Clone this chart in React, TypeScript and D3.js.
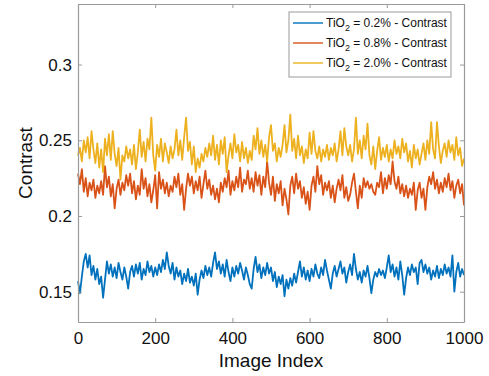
import React, { useEffect, useRef } from "react";
import * as d3 from "d3";

// image index every 5 frames
const imageIndex: number[] = d3.range(0, 1001, 5);

const tio2_02: number[] = [
  0.157, 0.149, 0.160, 0.170, 0.175, 0.166, 0.174, 0.161, 0.167, 0.158,
  0.165, 0.155, 0.160, 0.146, 0.158, 0.170, 0.162, 0.168, 0.160, 0.166,
  0.159, 0.169, 0.163, 0.158, 0.166, 0.160, 0.152, 0.163, 0.167, 0.160,
  0.168, 0.162, 0.169, 0.158, 0.165, 0.161, 0.170, 0.163, 0.167, 0.160,
  0.166, 0.161, 0.168, 0.163, 0.171, 0.165, 0.176, 0.167, 0.162, 0.169,
  0.158, 0.166, 0.160, 0.164, 0.155, 0.162, 0.157, 0.165, 0.156, 0.160,
  0.154, 0.162, 0.148, 0.158, 0.164, 0.159, 0.167, 0.161, 0.166, 0.160,
  0.169, 0.176, 0.165, 0.170, 0.162, 0.168, 0.160, 0.171, 0.163, 0.157,
  0.166, 0.160, 0.167, 0.162, 0.169, 0.164, 0.158, 0.166, 0.161, 0.155,
  0.152, 0.165, 0.173, 0.163, 0.168, 0.159, 0.166, 0.161, 0.169, 0.162,
  0.166, 0.157, 0.163, 0.153, 0.160, 0.155, 0.161, 0.147, 0.158, 0.152,
  0.159, 0.154, 0.162, 0.156, 0.163, 0.170, 0.160, 0.166, 0.158, 0.164,
  0.157, 0.165, 0.160, 0.168, 0.162, 0.159, 0.166, 0.161, 0.171, 0.164,
  0.158, 0.152, 0.162, 0.167, 0.160, 0.165, 0.170, 0.162, 0.166, 0.156,
  0.163, 0.168, 0.161, 0.175, 0.165, 0.158, 0.163, 0.156, 0.164, 0.160,
  0.167, 0.159, 0.149, 0.158, 0.163, 0.160, 0.165, 0.161, 0.164, 0.159,
  0.166, 0.174, 0.163, 0.168, 0.160, 0.166, 0.158, 0.170, 0.161, 0.148,
  0.159, 0.166, 0.161, 0.168, 0.163, 0.166, 0.155, 0.169, 0.171, 0.163,
  0.168, 0.162, 0.166, 0.158, 0.164, 0.160, 0.167, 0.159, 0.165, 0.161,
  0.168, 0.162, 0.166, 0.160, 0.174, 0.150, 0.163, 0.169, 0.160, 0.165,
  0.161,
];

const tio2_08: number[] = [
  0.228, 0.221, 0.231, 0.216, 0.225, 0.213, 0.222, 0.217, 0.224, 0.212,
  0.220, 0.215, 0.223, 0.214, 0.233, 0.219, 0.226, 0.213, 0.221, 0.205,
  0.218, 0.224, 0.214, 0.222, 0.217, 0.227, 0.220, 0.228, 0.215, 0.223,
  0.211, 0.220, 0.214, 0.231, 0.218, 0.225, 0.213, 0.221, 0.209, 0.217,
  0.227, 0.205, 0.229, 0.218, 0.224, 0.215, 0.222, 0.213, 0.220, 0.216,
  0.226, 0.219, 0.228, 0.214, 0.221, 0.204, 0.218, 0.228, 0.220, 0.226,
  0.215, 0.223, 0.217, 0.226, 0.212, 0.221, 0.230, 0.218, 0.224, 0.214,
  0.220, 0.211, 0.218, 0.209, 0.222, 0.216, 0.225, 0.219, 0.230, 0.214,
  0.223, 0.217, 0.226, 0.219, 0.232, 0.216, 0.224, 0.221, 0.230, 0.218,
  0.225, 0.216, 0.229, 0.220, 0.227, 0.214, 0.226, 0.219, 0.236, 0.222,
  0.214, 0.226, 0.210, 0.221, 0.215, 0.223, 0.207, 0.218, 0.211, 0.201,
  0.220, 0.226, 0.215, 0.228, 0.218, 0.223, 0.212, 0.219, 0.208, 0.216,
  0.204, 0.220, 0.226, 0.216, 0.233, 0.221, 0.227, 0.214, 0.222, 0.217,
  0.223, 0.212, 0.220, 0.209, 0.218, 0.224, 0.217, 0.227, 0.212, 0.219,
  0.210, 0.214, 0.222, 0.228, 0.216, 0.205, 0.220, 0.212, 0.225, 0.219,
  0.223, 0.218, 0.221, 0.216, 0.214, 0.222, 0.219, 0.229, 0.215, 0.225,
  0.218, 0.227, 0.221, 0.236, 0.223, 0.218, 0.226, 0.215, 0.221, 0.213,
  0.220, 0.212, 0.218, 0.214, 0.222, 0.204, 0.217, 0.222, 0.212, 0.218,
  0.204, 0.219, 0.226, 0.221, 0.229, 0.218, 0.224, 0.215, 0.222, 0.216,
  0.225, 0.219, 0.228, 0.217, 0.223, 0.212, 0.220, 0.224, 0.215, 0.221,
  0.207,
];

const tio2_20: number[] = [
  0.240, 0.245, 0.236, 0.250, 0.242, 0.252, 0.238, 0.256, 0.244, 0.235,
  0.248, 0.232, 0.244, 0.229, 0.251, 0.240, 0.254, 0.237, 0.256, 0.241,
  0.233, 0.245, 0.224, 0.240, 0.236, 0.246, 0.238, 0.244, 0.234, 0.247,
  0.231, 0.242, 0.257, 0.239, 0.249, 0.236, 0.251, 0.244, 0.265, 0.240,
  0.230, 0.247, 0.239, 0.251, 0.236, 0.248, 0.242, 0.235, 0.246, 0.238,
  0.244, 0.257, 0.240, 0.250, 0.237, 0.252, 0.265, 0.243, 0.249, 0.234,
  0.246, 0.229, 0.238, 0.232, 0.241, 0.236, 0.245, 0.239, 0.248, 0.240,
  0.253, 0.237, 0.247, 0.234, 0.250, 0.241, 0.252, 0.229, 0.240, 0.248,
  0.238, 0.254, 0.242, 0.247, 0.236, 0.249, 0.238, 0.245, 0.235, 0.243,
  0.237, 0.253, 0.244, 0.258, 0.241, 0.250, 0.239, 0.247, 0.236, 0.252,
  0.260, 0.243, 0.248, 0.236, 0.245, 0.239, 0.247, 0.260, 0.242, 0.250,
  0.267, 0.243, 0.251, 0.238, 0.253, 0.240, 0.246, 0.235, 0.244, 0.238,
  0.255, 0.241, 0.256, 0.243, 0.238, 0.246, 0.236, 0.244, 0.239, 0.247,
  0.237, 0.245, 0.240, 0.248, 0.236, 0.244, 0.256, 0.240, 0.258, 0.246,
  0.240, 0.247, 0.236, 0.244, 0.265, 0.241, 0.250, 0.238, 0.253, 0.244,
  0.261, 0.240, 0.234, 0.246, 0.231, 0.243, 0.252, 0.237, 0.245, 0.239,
  0.247, 0.236, 0.244, 0.238, 0.250, 0.241, 0.246, 0.238, 0.251, 0.242,
  0.248, 0.236, 0.243, 0.232, 0.247, 0.238, 0.244, 0.234, 0.241, 0.248,
  0.237, 0.250, 0.241, 0.262, 0.244, 0.238, 0.262, 0.246, 0.235, 0.243,
  0.248, 0.239, 0.250, 0.242, 0.247, 0.237, 0.252, 0.240, 0.245, 0.233,
  0.238,
];

const seriesNames = ["0.2%", "0.8%", "2.0%"];
const seriesColors = ["#0072BD", "#D95319", "#EDB120"];
const xTicks = [0, 200, 400, 600, 800, 1000];
const yTicks = [0.15, 0.2, 0.25, 0.3];

const W = 489;
const H = 376;
const m = { top: 4, right: 25, bottom: 54, left: 78 };

export default function App() {
  const ref = useRef<SVGSVGElement>(null);

  useEffect(() => {
    const svg = d3.select(ref.current);
    svg.selectAll("*").remove();
    const iw = W - m.left - m.right;
    const ih = H - m.top - m.bottom;

    const x = d3.scaleLinear().domain([0, 1000]).range([m.left, m.left + iw]);
    const y = d3.scaleLinear().domain([0.13, 0.34]).range([m.top + ih, m.top]);

    const axisColor = "#9a9a9a";
    const font = "'Liberation Sans', Arial, Helvetica, sans-serif";

    const series = [tio2_02, tio2_08, tio2_20];
    const ln = d3
      .line<number>()
      .x((_, i) => x(imageIndex[i]))
      .y((v) => y(v));

    svg
      .append("g")
      .selectAll("path")
      .data(series)
      .join("path")
      .attr("d", (d) => ln(d))
      .attr("fill", "none")
      .attr("stroke", (_, i) => seriesColors[i])
      .attr("stroke-width", 1.8)
      .attr("stroke-linejoin", "round");

    // box axes, ticks pointing inward
    const bottom = svg
      .append("g")
      .attr("transform", `translate(0,${m.top + ih})`)
      .call(d3.axisBottom(x).tickValues(xTicks).tickSizeInner(-4).tickSizeOuter(0).tickPadding(10).tickFormat(d3.format("d")));
    const top = svg
      .append("g")
      .attr("transform", `translate(0,${m.top})`)
      .call(d3.axisTop(x).tickValues(xTicks).tickSizeInner(-4).tickSizeOuter(0).tickFormat(() => ""));
    const left = svg
      .append("g")
      .attr("transform", `translate(${m.left},0)`)
      .call(d3.axisLeft(y).tickValues(yTicks).tickSizeInner(-4).tickSizeOuter(0).tickPadding(6).tickFormat((d) => String(d)));
    const right = svg
      .append("g")
      .attr("transform", `translate(${m.left + iw},0)`)
      .call(d3.axisRight(y).tickValues(yTicks).tickSizeInner(-4).tickSizeOuter(0).tickFormat(() => ""));

    [bottom, top, left, right].forEach((g) => {
      g.select(".domain").attr("stroke", axisColor).attr("stroke-width", 1.2);
      g.selectAll(".tick line").attr("stroke", axisColor);
      g.selectAll(".tick text").attr("fill", "#111").attr("font-size", 17).attr("font-family", font);
    });

    svg
      .append("text")
      .attr("x", m.left + iw / 2)
      .attr("y", 367)
      .attr("text-anchor", "middle")
      .attr("font-size", 19)
      .attr("font-family", font)
      .attr("fill", "#111")
      .text("Image Index");

    svg
      .append("text")
      .attr("transform", `translate(32,${m.top + ih / 2}) rotate(-90)`)
      .attr("text-anchor", "middle")
      .attr("font-size", 19)
      .attr("font-family", font)
      .attr("fill", "#111")
      .text("Contrast");

    // legend
    const lg = svg.append("g").attr("transform", "translate(289,12)");
    lg.append("rect")
      .attr("width", 162)
      .attr("height", 65)
      .attr("fill", "#fff")
      .attr("stroke", axisColor)
      .attr("stroke-width", 1);
    const rows = lg
      .selectAll("g.row")
      .data(seriesNames)
      .join("g")
      .attr("class", "row")
      .attr("transform", (_, i) => `translate(0,${11 + i * 20})`);
    rows
      .append("line")
      .attr("x1", 4)
      .attr("x2", 34)
      .attr("stroke", (_, i) => seriesColors[i])
      .attr("stroke-width", 1.4);
    const t = rows
      .append("text")
      .attr("x", 37)
      .attr("y", 4)
      .attr("font-size", 12)
      .attr("font-family", font)
      .attr("fill", "#111");
    t.append("tspan").text("TiO");
    t.append("tspan").attr("font-size", 9).attr("dy", 4).text("2");
    t.append("tspan").attr("dy", -4).text((d) => ` = ${d} - Contrast`);
  }, []);

  return (
    <svg
      ref={ref}
      width={W}
      height={H}
      style={{ position: "absolute", left: 0, top: 0, background: "#fff" }}
    />
  );
}
